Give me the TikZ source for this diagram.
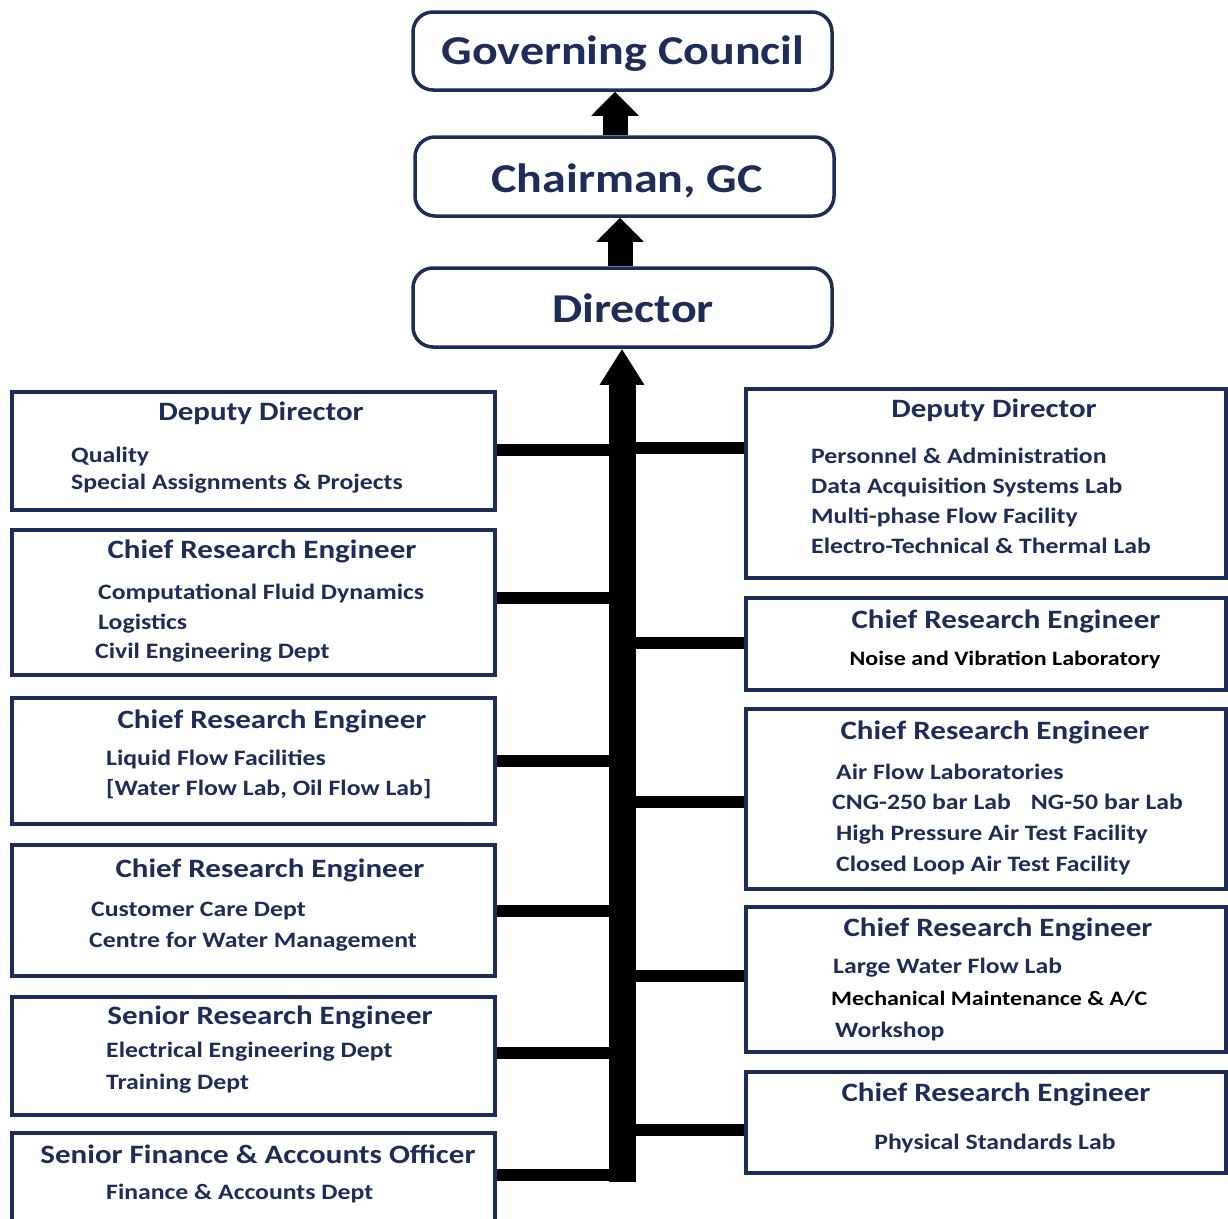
\documentclass[tikz,border=0pt]{standalone}
\usepackage{fontspec}
\setmainfont{Carlito}[FakeStretch=1.17]
\usetikzlibrary{arrows.meta}
\definecolor{navy}{RGB}{30,44,88}
\newcommand\fBig{\fontsize{41}{48}\selectfont\bfseries}
\newcommand\fTitle{\fontsize{26.5}{30}\selectfont\bfseries}
\newcommand\fBody{\fontsize{22}{26}\selectfont\bfseries}
\newcommand\fBodyK{\fontsize{20.5}{26}\selectfont\bfseries}
\begin{document}
\begin{tikzpicture}[x=1pt,y=-1pt,
  topbox/.style={draw=navy, line width=3.5pt, rounded corners=20pt, fill=white, inner sep=0pt},
  box/.style={draw=navy, line width=3.5pt, fill=white, inner sep=0pt},
  bigt/.style={anchor=base, text=navy, font=\fBig, inner sep=0pt},
  ttl/.style={anchor=base, text=navy, font=\fTitle, inner sep=0pt},
  itm/.style={anchor=base west, text=navy, font=\fBody, inner sep=0pt},
  itmk/.style={itm, text=black, font=\fBodyK},
  conn/.style={line width=12pt, black},
  uparrow/.style={line width=25pt, black, -{Triangle[width=46pt,length=24pt]}},
  trunk/.style={line width=27pt, black, -{Triangle[width=42pt,length=36pt]}}]
\fill[white] (0,0) rectangle (1228,1218);
\useasboundingbox (0,0) rectangle (1228,1218);

% top boxes
\node[topbox, minimum width=419pt, minimum height=78pt] (GC) at (622.5,51) {};
\node[topbox, minimum width=419pt, minimum height=79pt] (Chair) at (624.5,176.5) {};
\node[topbox, minimum width=419pt, minimum height=79pt] (Dir) at (622.5,307.5) {};
\node[bigt] (GCt) at (623,64) {Governing Council};
\node[bigt] (Chairt) at (627,192) {Chairman, GC};
\node[bigt] (Dirt) at (633,322) {Director};

% left boxes
\node[box, minimum width=483pt, minimum height=118pt] (L1) at (253.5,451) {};
\node[box, minimum width=483pt, minimum height=145pt] (L2) at (253.5,602.5) {};
\node[box, minimum width=483pt, minimum height=126pt] (L3) at (253.5,761) {};
\node[box, minimum width=483pt, minimum height=131pt] (L4) at (253.5,910.5) {};
\node[box, minimum width=483pt, minimum height=118pt] (L5) at (253.5,1056) {};
\node[box, minimum width=483pt, minimum height=92pt] (L6) at (253.5,1179) {};

% right boxes
\node[box, minimum width=480pt, minimum height=189pt] (R1) at (986,483.5) {};
\node[box, minimum width=480pt, minimum height=92pt] (R2) at (986,644) {};
\node[box, minimum width=480pt, minimum height=180pt] (R3) at (986,799) {};
\node[box, minimum width=480pt, minimum height=145pt] (R4) at (986,979.5) {};
\node[box, minimum width=480pt, minimum height=101pt] (R5) at (986,1122.5) {};

% left texts
\node[ttl] (L1t) at (261,420) {Deputy Director};
\node[itm] (L1a) at (71,462) {Quality};
\node[itm] (L1b) at (71,489) {Special Assignments \& Projects};

\node[ttl] (L2t) at (262,558) {Chief Research Engineer};
\node[itm] (L2a) at (98,599) {Computational Fluid Dynamics};
\node[itm] (L2b) at (98,629) {Logistics};
\node[itm] (L2c) at (95,658) {Civil Engineering Dept};

\node[ttl] (L3t) at (272,728) {Chief Research Engineer};
\node[itm] (L3a) at (106,765) {Liquid Flow Facilities};
\node[itm] (L3b) at (106,795) {[Water Flow Lab, Oil Flow Lab]};

\node[ttl] (L4t) at (270,877) {Chief Research Engineer};
\node[itm] (L4a) at (91,916) {Customer Care Dept};
\node[itm] (L4b) at (89,947) {Centre for Water Management};

\node[ttl] (L5t) at (270,1024) {Senior Research Engineer};
\node[itm] (L5a) at (106,1057) {Electrical Engineering Dept};
\node[itm] (L5b) at (106,1089) {Training Dept};

\node[ttl] (L6t) at (258,1163) {Senior Finance \& Accounts Officer};
\node[itm] (L6a) at (106,1199) {Finance \& Accounts Dept};

% right texts
\node[ttl] (R1t) at (994,417) {Deputy Director};
\node[itm] (R1a) at (811,463) {Personnel \& Administration};
\node[itm] (R1b) at (811,493) {Data Acquisition Systems Lab};
\node[itm] (R1c) at (811,523) {Multi-phase Flow Facility};
\node[itm] (R1d) at (811,553) {Electro-Technical \& Thermal Lab};

\node[ttl] (R2t) at (1006,628) {Chief Research Engineer};
\node[itmk, anchor=base] (R2a) at (1005,665) {Noise and Vibration Laboratory};

\node[ttl] (R3t) at (995,739) {Chief Research Engineer};
\node[itm] (R3a) at (836,779) {Air Flow Laboratories};
\node[itm] (R3b) at (832,809) {CNG-250 bar Lab\hspace{20pt}NG-50 bar Lab};
\node[itm] (R3c) at (836,840) {High Pressure Air Test Facility};
\node[itm] (R3d) at (836,871) {Closed Loop Air Test Facility};

\node[ttl] (R4t) at (998,936) {Chief Research Engineer};
\node[itm] (R4a) at (833,973) {Large Water Flow Lab};
\node[itmk] (R4b) at (831,1005) {Mechanical Maintenance \& A/C};
\node[itm] (R4c) at (835,1037) {Workshop};

\node[ttl] (R5t) at (996,1101) {Chief Research Engineer};
\node[itm, anchor=base] (R5a) at (995,1149) {Physical Standards Lab};

% trunk coordinates
\coordinate (tb) at (622,1182);
\coordinate (tL1) at (622,450);
\coordinate (tL2) at (622,598);
\coordinate (tL3) at (622,761);
\coordinate (tL4) at (622,911);
\coordinate (tL5) at (622,1053);
\coordinate (tL6) at (622,1175);
\coordinate (tR1) at (622,448);
\coordinate (tR2) at (622,643);
\coordinate (tR3) at (622,802);
\coordinate (tR4) at (622,976);
\coordinate (tR5) at (622,1130);

% connectors
\foreach \n in {L1,L2,L3,L4,L5,L6}{
  \draw[conn] (\n.east |- t\n) -- (t\n);
}
\foreach \n in {R1,R2,R3,R4,R5}{
  \draw[conn] (\n.west |- t\n) -- (t\n);
}
\draw[trunk] (tb) -- (Dir.south -| tb);

% upper arrows
\draw[uparrow] ([xshift=-9.5pt]Chair.north) -- ([xshift=-7.5pt]GC.south);
\draw[uparrow] ([xshift=-2.5pt]Dir.north) -- ([xshift=-4.5pt]Chair.south);
\end{tikzpicture}
\end{document}
